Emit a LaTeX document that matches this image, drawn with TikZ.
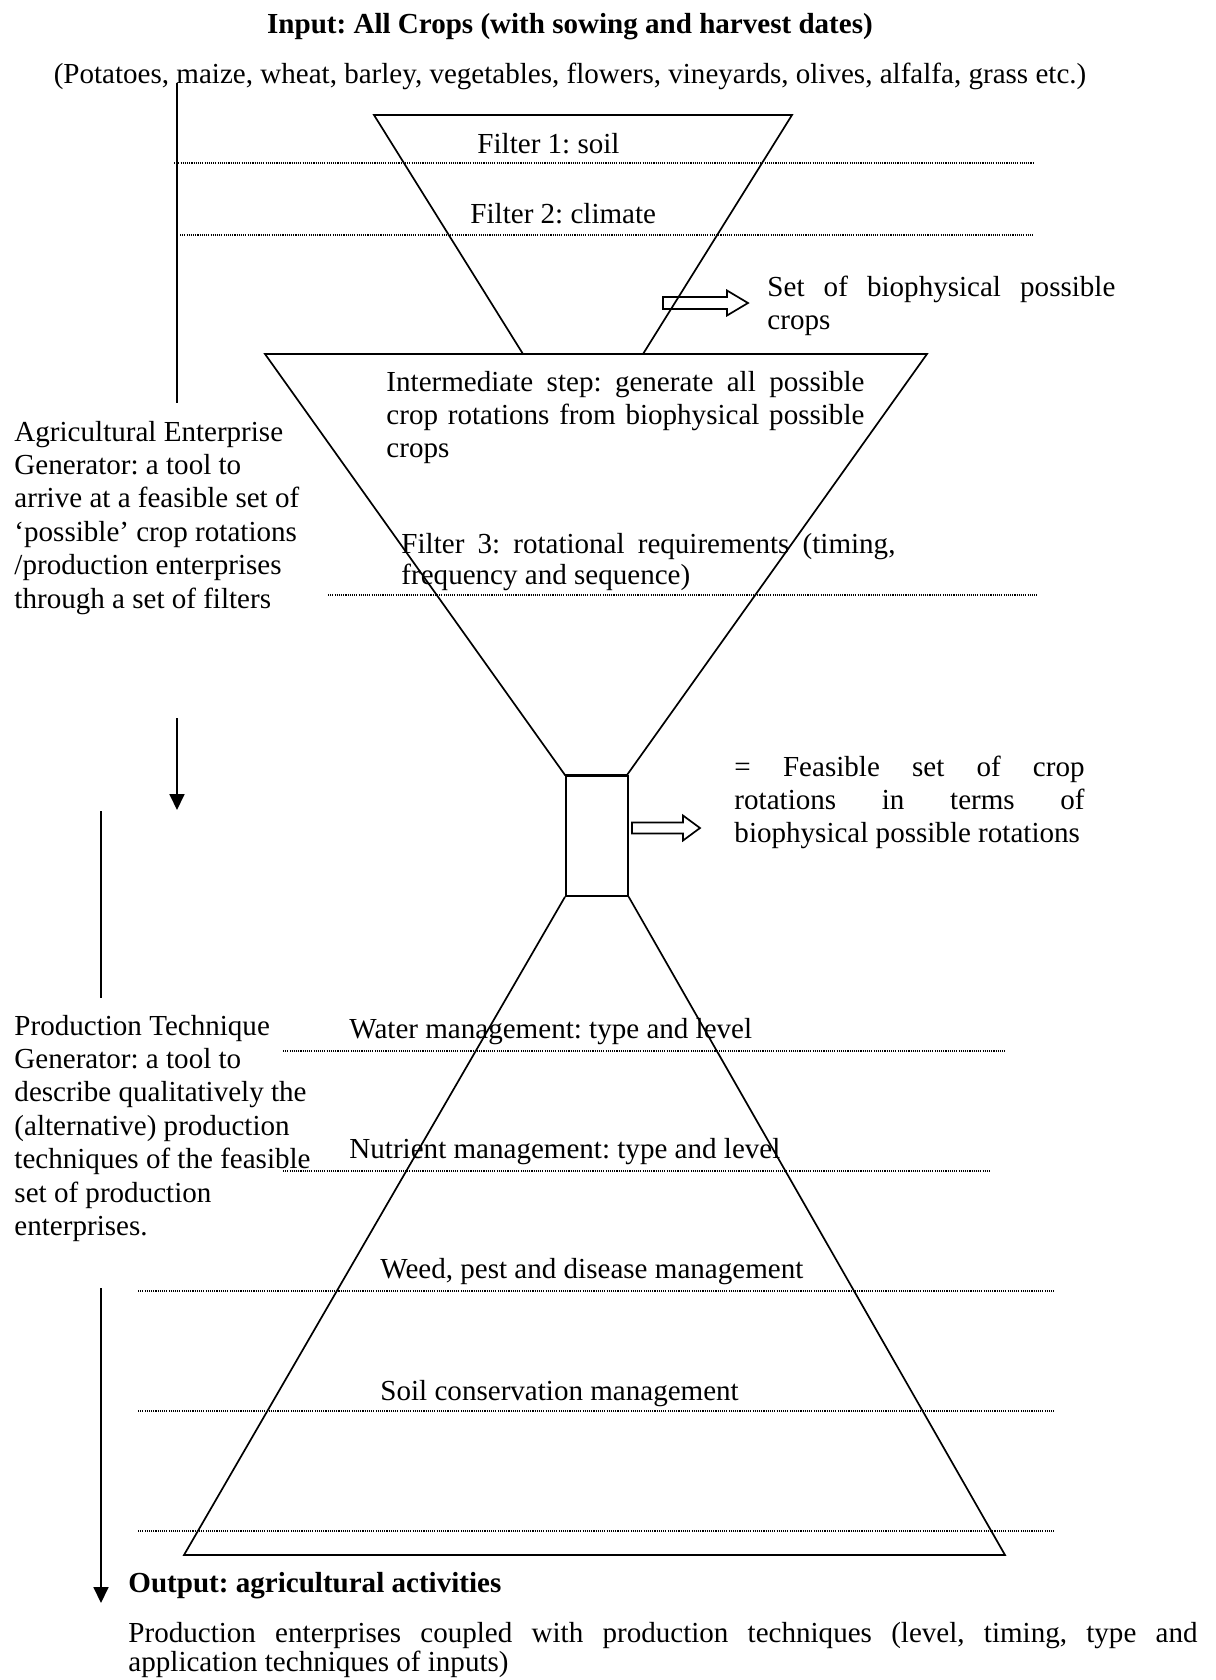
\documentclass[tikz,border=0pt]{standalone}
\usepackage{fontspec}
\setmainfont{Liberation Serif}
\usetikzlibrary{arrows.meta}
\frenchspacing
\newcommand\jline[2]{\hbox{\makebox[#1][s]{#2}}}
\newcommand\plainline[1]{\hbox{#1}}
\begin{document}
\begin{tikzpicture}[x=0.413pt,y=-0.413pt,
  txt/.style={inner sep=0pt, font=\fontsize{12}{13.8}\selectfont\frenchspacing},
  edge/.style={line width=0.7pt, line join=miter},
  dots/.style={line width=0.5pt, dash pattern=on 0.45pt off 0.45pt},
  blockarrow/.style={line width=0.7pt, line join=miter},
  flow/.style={line width=0.7pt, -{Triangle[width=6.2pt,length=6.6pt]}}]
\useasboundingbox (0,0) rectangle (1216,1680);

% ---- texts ----
\node[txt, anchor=base] (title) at (570,33) {\bfseries Input: All Crops (with sowing and harvest dates)};
\node[txt, anchor=base] (croplist) at (570,83) {(Potatoes, maize, wheat, barley, vegetables, flowers, vineyards, olives, alfalfa, grass etc.)};
\node[txt, anchor=base west] (f1) at (477,153) {Filter 1: soil};
\node[txt, anchor=base west] (f2) at (470,223) {Filter 2: climate};
\node[txt, anchor=base west] (setbio) at (767,296) {\vtop{\baselineskip=13.8pt
  \jline{143.7pt}{Set of biophysical possible}\plainline{crops}}};
\node[txt, anchor=base west] (inter) at (386,391) {\vtop{\baselineskip=13.8pt
  \jline{197.4pt}{Intermediate step: generate all possible}
  \jline{197.4pt}{crop rotations from biophysical possible}
  \plainline{crops}}};
\node[txt, anchor=base west] (aeg) at (14,441) {\vtop{\baselineskip=13.8pt
  \plainline{Agricultural Enterprise}
  \plainline{Generator: a tool to}
  \plainline{arrive at a feasible set of}
  \plainline{‘possible’ crop rotations}
  \plainline{/production enterprises}
  \plainline{through a set of filters}}};
\node[txt, anchor=base west] (f3) at (401,553) {\vtop{\baselineskip=13.2pt
  \jline{204pt}{Filter 3: rotational requirements (timing,}
  \plainline{frequency and sequence)}}};
\node[txt, anchor=base west] (feas) at (734,776) {\vtop{\baselineskip=13.8pt
  \jline{144.6pt}{= Feasible set of crop}
  \jline{144.6pt}{rotations in terms of}
  \plainline{biophysical possible rotations}}};
\node[txt, anchor=base west] (ptg) at (14,1035) {\vtop{\baselineskip=13.8pt
  \plainline{Production Technique}
  \plainline{Generator: a tool to}
  \plainline{describe qualitatively the}
  \plainline{(alternative) production}
  \plainline{techniques of the feasible}
  \plainline{set of production}
  \plainline{enterprises.}}};
\node[txt, anchor=base west] (water) at (349,1038) {Water management: type and level};
\node[txt, anchor=base west] (nutr) at (349,1158) {Nutrient management: type and level};
\node[txt, anchor=base west] (weed) at (380,1278) {Weed, pest and disease management};
\node[txt, anchor=base west] (soilc) at (380,1400) {Soil conservation management};
\node[txt, anchor=base west] (outp) at (128,1592) {\bfseries Output: agricultural activities};
\node[txt, anchor=base west] (prodent) at (128,1642) {\vtop{\baselineskip=10.9pt
  \jline{441.5pt}{Production enterprises coupled with production techniques (level, timing, type and}
  \plainline{application techniques of inputs)}}};

% ---- funnel shapes ----
\draw[edge] (374,115) -- (792,115) -- (643,354) -- (523,354) -- cycle;
\draw[edge] (265,354) -- (927,354) -- (627,775) -- (565,775) -- cycle;
\node[draw, line width=0.7pt, inner sep=0pt, minimum width=25.6pt, minimum height=49.6pt, anchor=north west] (feasbox) at (565,775) {};
\draw[edge] (feasbox.south west) -- (184,1555) -- (1005,1555) -- (feasbox.south east);

% ---- dotted filter lines ----
\draw[dots] (174,163) -- (1033,163);
\draw[dots] (180,235) -- (1034,235);
\draw[dots] (328,595) -- (1038,595);
\draw[dots] (283,1051) -- (1005,1051);
\draw[dots] (283,1171) -- (991,1171);
\draw[dots] (138,1291) -- (1055,1291);
\draw[dots] (138,1411) -- (1055,1411);
\draw[dots] (138,1531) -- (1055,1531);

% ---- block arrows ----
\draw[blockarrow] (663,297) -- (727,297) -- (727,290.5) -- (748,303) -- (727,315.5) -- (727,309) -- (663,309) -- cycle;
\draw[blockarrow] (632,822.5) -- (683,822.5) -- (683,815.5) -- (700,828) -- (683,840.5) -- (683,833.5) -- (632,833.5) -- cycle;

% ---- left flow lines ----
\coordinate (l1a) at (177,83);
\coordinate (l1b) at (177,403);
\coordinate (l2a) at (177,718);
\coordinate (l2b) at (177,810);
\coordinate (l3a) at (101,811);
\coordinate (l3b) at (101,998);
\coordinate (l4a) at (101,1288);
\coordinate (l4b) at (101,1603);
\draw[line width=0.7pt] (l1a) -- (l1b);
\draw[flow] (l2a) -- (l2b);
\draw[line width=0.7pt] (l3a) -- (l3b);
\draw[flow] (l4a) -- (l4b);
\end{tikzpicture}
\end{document}
